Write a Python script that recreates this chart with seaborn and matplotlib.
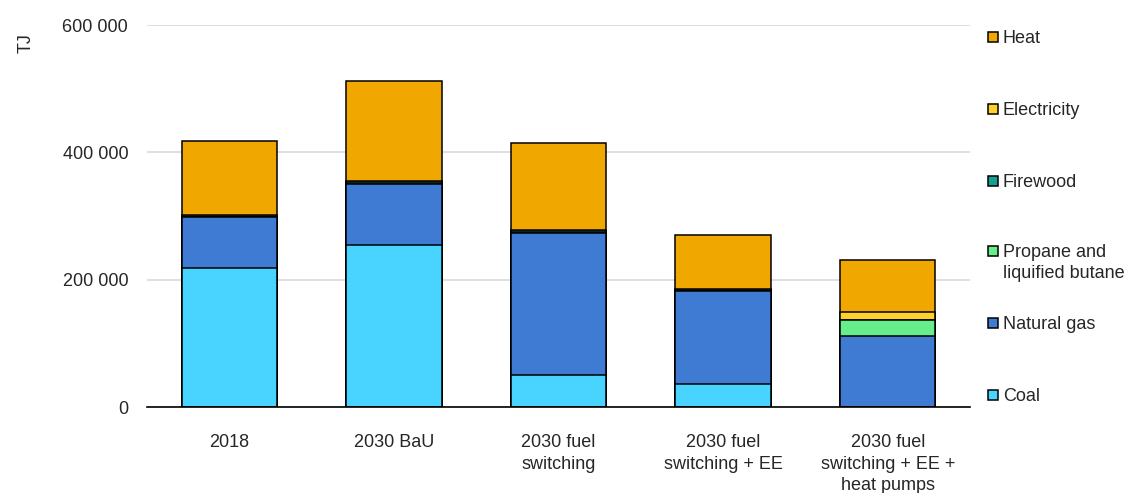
import matplotlib
matplotlib.use("Agg")
import matplotlib.pyplot as plt
import matplotlib.ticker as mticker
from matplotlib.patches import Rectangle
import numpy as np
import pandas as pd
import seaborn as sns

# Final energy demand by scenario, TJ
scenarios = ["2018", "2030 BaU", "2030 fuel\nswitching",
             "2030 fuel\nswitching + EE", "2030 fuel\nswitching + EE +\nheat pumps"]
coal = [218000, 254000, 50000, 36000, 0]
natural_gas = [80000, 97000, 224000, 146000, 112000]
propane = [0, 0, 0, 0, 24000]
firewood = [1500, 2000, 2000, 1500, 0]
electricity = [2000, 2000, 2000, 2000, 13000]
heat = [116500, 157500, 136000, 84500, 82500]

series_names = ["Coal", "Natural gas", "Propane and\nliquified butane",
                "Firewood", "Electricity", "Heat"]
series_values = [coal, natural_gas, propane, firewood, electricity, heat]
series_colors = ["#48D4FF", "#3F7AD3", "#66EE8C", "#14A090", "#FFD02A", "#F0A800"]

sns.set_theme(style="white")
plt.rcParams["font.family"] = ["Liberation Sans", "DejaVu Sans"]

W, H = 1147, 493
fig = plt.figure(figsize=(W / 100, H / 100), dpi=100)
ax = fig.add_axes([147 / W, 1 - 407 / H, 823 / W, 382 / H])

# Stacked bars: draw cumulative totals from the top layer downwards
cum = np.cumsum(np.array(series_values, dtype=float), axis=0)
for i in range(len(series_names) - 1, -1, -1):
    df = pd.DataFrame({"scenario": scenarios, "value": cum[i]})
    sns.barplot(data=df, x="scenario", y="value", color=series_colors[i],
                saturation=1, width=0.58, edgecolor="black", linewidth=1.1,
                ax=ax, zorder=3)

ax.set_ylim(0, 600000)
ax.set_xlim(-0.5, 4.5)
ax.yaxis.set_major_locator(mticker.MultipleLocator(200000))
ax.yaxis.set_major_formatter(
    mticker.FuncFormatter(lambda v, p: f"{v:,.0f}".replace(",", " ")))
ax.grid(axis="y", color="#D9D9D9", linewidth=1.2, zorder=0)
ax.set_axisbelow(True)

for s in ["top", "right", "left"]:
    ax.spines[s].set_visible(False)
ax.spines["bottom"].set_color("black")
ax.spines["bottom"].set_linewidth(1.2)
ax.spines["bottom"].set_zorder(5)

ax.tick_params(axis="y", length=0, pad=13.5, labelsize=13, labelcolor="#262626")
ax.tick_params(axis="x", length=0, pad=19.5, labelsize=13, labelcolor="#262626")
for lbl in ax.get_xticklabels():
    lbl.set_linespacing(1.36)
ax.set_xlabel("")
ax.set_ylabel("TJ", fontsize=13, color="#262626")
ax.yaxis.set_label_coords(-0.137, 0.954)

# Legend on the right, top to bottom: Heat ... Coal
legend_rows = [37, 109, 181, 251, 323, 395]   # pixel rows of each entry's first line
for name, color, row in zip(series_names[::-1], series_colors[::-1], legend_rows):
    fig.patches.append(Rectangle((988 / W, 1 - (row + 5) / H), 10 / W, 10 / H,
                                 transform=fig.transFigure, facecolor=color,
                                 edgecolor="black", linewidth=1.1))
    fig.text(1003 / W, 1 - (row - 7) / H, name, fontsize=13, color="#262626",
             ha="left", va="top", linespacing=1.3)

fig.savefig("out.png", dpi=100)
